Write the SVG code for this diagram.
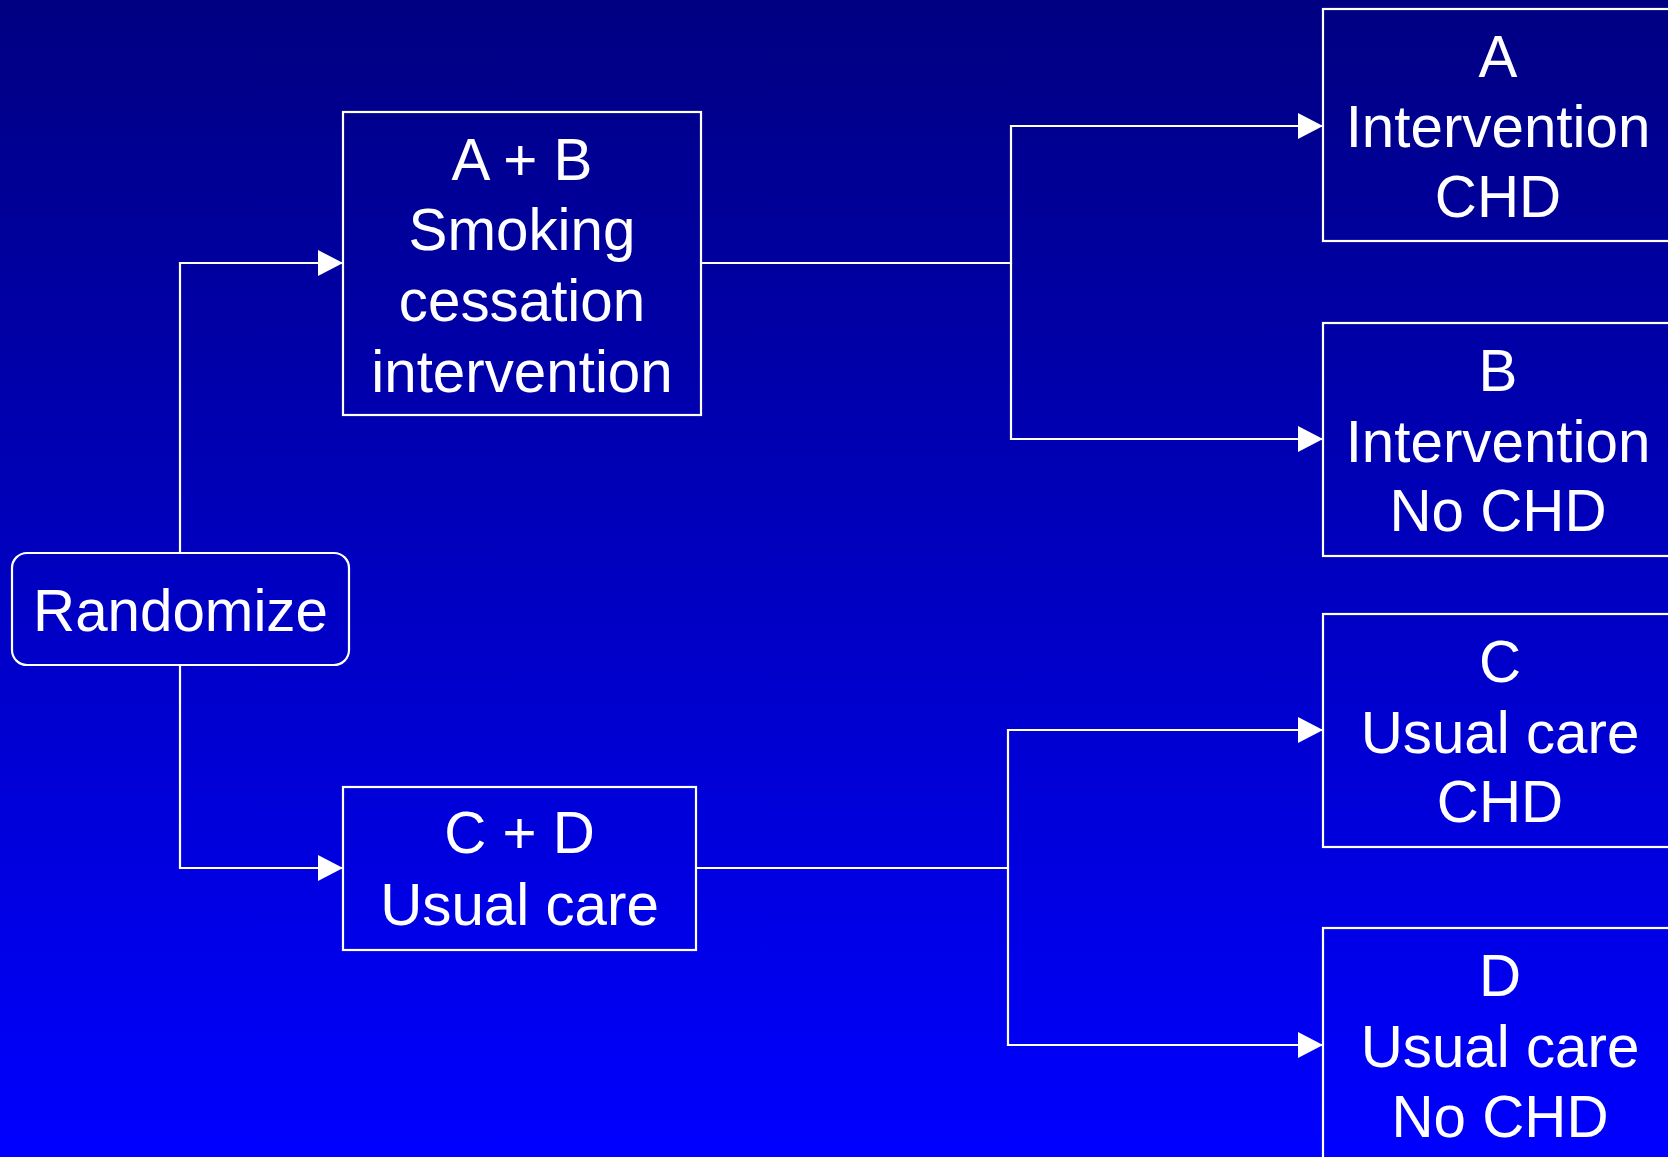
<svg xmlns="http://www.w3.org/2000/svg" width="1668" height="1157" viewBox="0 0 1668 1157">
<defs>
<linearGradient id="bg" x1="0" y1="0" x2="0" y2="1">
<stop offset="0" stop-color="#000082"/>
<stop offset="1" stop-color="#0000FF"/>
</linearGradient>
<marker id="arr" markerWidth="25" markerHeight="26" refX="25" refY="13" orient="auto" markerUnits="userSpaceOnUse">
<path d="M0,0 L25,13 L0,26 Z" fill="#FFFFFF"/>
</marker>
</defs>
<style>
.box{fill:none;stroke:#FFFFFF;stroke-width:2.2}
.ln{fill:none;stroke:#FFFFFF;stroke-width:2.2}
text{font-family:"Liberation Sans",Arial,sans-serif;font-size:58.3px;fill:#FFFFFF;text-anchor:middle}
</style>
<rect x="0" y="0" width="1668" height="1157" fill="url(#bg)"/>
<g id="connectors">
<path class="ln" d="M180,553 V263 H343" marker-end="url(#arr)"/>
<path class="ln" d="M180,665 V868 H343" marker-end="url(#arr)"/>
<path class="ln" d="M701,263 H1011 V126 H1323" marker-end="url(#arr)"/>
<path class="ln" d="M1011,263 V439 H1323" marker-end="url(#arr)"/>
<path class="ln" d="M696,868 H1008 V730 H1323" marker-end="url(#arr)"/>
<path class="ln" d="M1008,868 V1045 H1323" marker-end="url(#arr)"/>
</g>
<g id="randomize">
<rect class="box" x="12" y="553" width="337" height="112" rx="15"/>
<text x="180.5" y="631">Randomize</text>
</g>
<g id="ab">
<rect class="box" x="343" y="112" width="358" height="303"/>
<text x="522" y="180">A + B</text>
<text x="522" y="250">Smoking</text>
<text x="522" y="321">cessation</text>
<text x="522" y="392">intervention</text>
</g>
<g id="cd">
<rect class="box" x="343" y="787" width="353" height="163"/>
<text x="519.5" y="853">C + D</text>
<text x="519.5" y="925">Usual care</text>
</g>
<g id="a">
<rect class="box" x="1323" y="9" width="352" height="232"/>
<text x="1498" y="77">A</text>
<text x="1498" y="147">Intervention</text>
<text x="1498" y="217">CHD</text>
</g>
<g id="b">
<rect class="box" x="1323" y="323" width="352" height="233"/>
<text x="1498" y="391">B</text>
<text x="1498" y="462">Intervention</text>
<text x="1498" y="531">No CHD</text>
</g>
<g id="c">
<rect class="box" x="1323" y="614" width="352" height="233"/>
<text x="1500" y="682">C</text>
<text x="1500" y="753">Usual care</text>
<text x="1500" y="822">CHD</text>
</g>
<g id="d">
<rect class="box" x="1323" y="928" width="352" height="240"/>
<text x="1500" y="996">D</text>
<text x="1500" y="1067">Usual care</text>
<text x="1500" y="1137">No CHD</text>
</g>
</svg>
